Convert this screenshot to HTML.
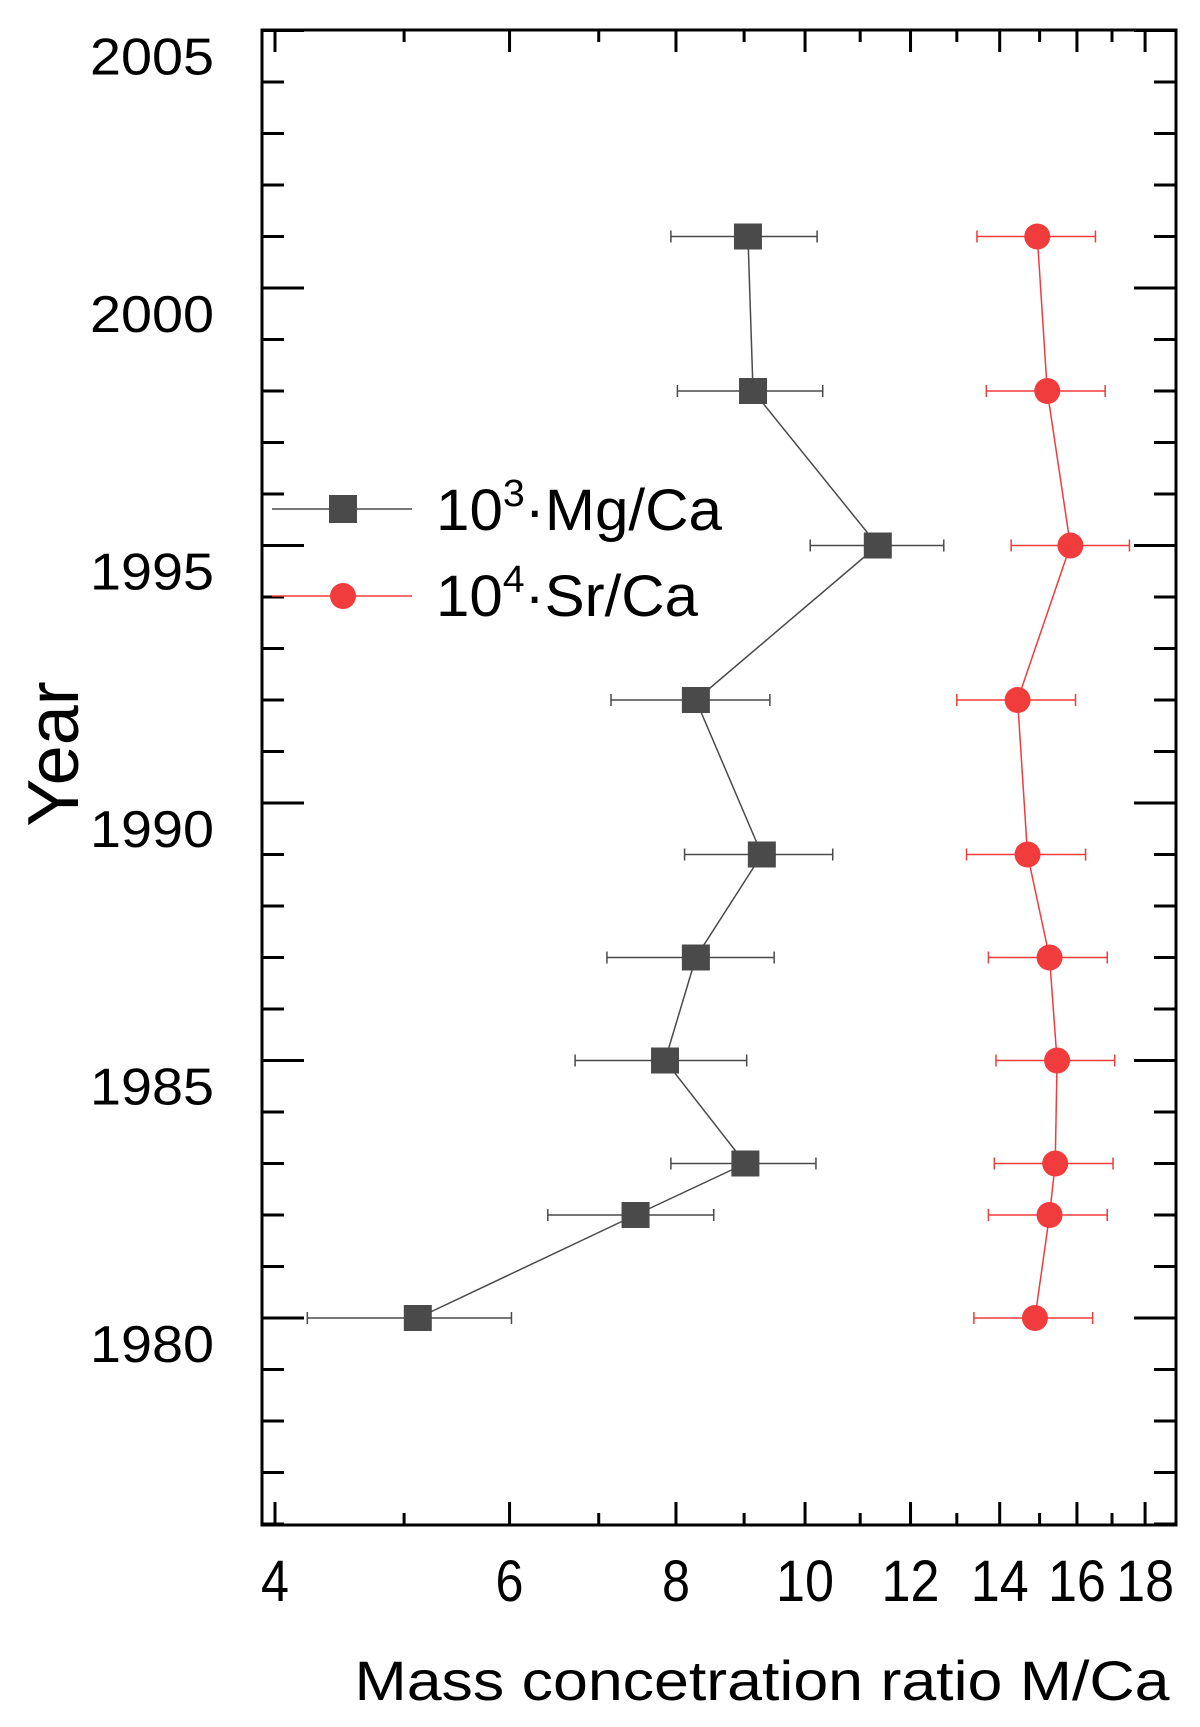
<!DOCTYPE html>
<html><head><meta charset="utf-8"><style>
html,body{margin:0;padding:0;background:#fff;}
svg{display:block;font-family:"Liberation Sans",Arial,sans-serif;}
</style></head><body>
<svg id="chart" width="1200" height="1727" viewBox="0 0 1200 1727" xmlns="http://www.w3.org/2000/svg">
<g id="grid"></g>
<g id="series"></g>
<rect x="262" y="30" width="914" height="1495" fill="none" stroke="#000" stroke-width="3"/>
<g>
 <line x1="272" y1="509" x2="412" y2="509" stroke="#4a4a4a" stroke-width="1.5"/>
 <rect x="329" y="495" width="28" height="28" fill="#4a4a4a"/>
 <text x="436" y="530" font-size="58" textLength="286" lengthAdjust="spacingAndGlyphs">10<tspan dy="-24" font-size="38">3</tspan><tspan dy="24">·Mg/Ca</tspan></text>
 <line x1="272" y1="596" x2="412" y2="596" stroke="#f03c3c" stroke-width="1.5"/>
 <circle cx="343" cy="596" r="13" fill="#f03c3c"/>
 <text x="436" y="616" font-size="58" textLength="262" lengthAdjust="spacingAndGlyphs">10<tspan dy="-24" font-size="38">4</tspan><tspan dy="24">·Sr/Ca</tspan></text>
</g>
<text transform="translate(78,754) rotate(-90)" text-anchor="middle" font-size="72">Year</text>
<text x="762" y="1700" text-anchor="middle" font-size="56" textLength="815" lengthAdjust="spacingAndGlyphs">Mass concetration ratio M/Ca</text>
</svg>
<script>
const years=[2001,1998,1995,1992,1989,1987,1985,1983,1982,1980];
const mgVal=[9.06,9.14,11.34,8.28,9.28,8.28,7.85,9.02,7.46,5.12];
const mgLo=[7.93,8.02,10.09,7.15,8.12,7.10,6.72,7.93,6.41,4.23];
const mgHi=[10.21,10.31,12.71,9.41,10.49,9.48,9.04,10.19,8.54,6.02];
const srVal=[14.94,15.20,15.82,14.44,14.69,15.26,15.46,15.41,15.26,14.88];
const srLo=[13.46,13.68,14.28,13.0,13.22,13.73,13.91,13.87,13.73,13.39];
const srHi=[16.52,16.8,17.52,15.96,16.24,16.86,17.08,17.03,16.86,16.44];
const xTicks=[4,6,8,10,12,14,16,18];
const xMinor=[5,7,9,11,13,15,17];
const yTicks=[1980,1985,1990,1995,2000,2005];

const X=v=>275+1332*Math.log10(v/4);
const Y=y=>1318-(y-1980)*51.5;
const NS='http://www.w3.org/2000/svg';
function mk(t,a,p){const e=document.createElementNS(NS,t);for(const k in a)e.setAttribute(k,a[k]);p.appendChild(e);return e;}
const g=document.getElementById('grid'),s=document.getElementById('series');
for(let y=1976;y<=2005;y++){const L=(y%5===0)?42:22;
 let t=mk('line',{x1:262,x2:262+L,y1:Y(y),y2:Y(y),stroke:'#000','stroke-width':3},g);
 
 
 t=mk('line',{x1:1176,x2:1176-L,y1:Y(y),y2:Y(y),stroke:'#000','stroke-width':3},g);
 
 }
yTicks.forEach(y=>{const t=mk('text',{x:214,y:Y(y)+44,'text-anchor':'end','font-size':52,textLength:124,lengthAdjust:'spacingAndGlyphs'},g);t.textContent=y;
 
 });
xTicks.forEach(v=>{let t=mk('line',{x1:X(v),x2:X(v),y1:1525,y2:1502,stroke:'#000','stroke-width':3},g);
 
 
 t=mk('line',{x1:X(v),x2:X(v),y1:30,y2:52,stroke:'#000','stroke-width':3},g);
 
 
 const l=mk('text',{x:X(v),y:1601,'text-anchor':'middle','font-size':58,textLength:(v>=10?58:28),lengthAdjust:'spacingAndGlyphs'},g);l.textContent=v;
 
 });
xMinor.forEach(v=>{let t=mk('line',{x1:X(v),x2:X(v),y1:1525,y2:1513,stroke:'#000','stroke-width':3},g);
 
 
 t=mk('line',{x1:X(v),x2:X(v),y1:30,y2:42,stroke:'#000','stroke-width':3},g);
 
 });
function series(vals,lo,hi,col,kind){
 const pl=mk('polyline',{points:years.map((y,i)=>X(vals[i])+','+Y(y)).join(' '),fill:'none',stroke:col,'stroke-width':1.5},s);
 
 
 years.forEach((y,i)=>{const yy=Y(y);
  const e=mk('path',{d:`M${X(lo[i])},${yy}H${X(hi[i])}M${X(lo[i])},${yy-6}v12M${X(hi[i])},${yy-6}v12`,stroke:col,'stroke-width':1.5,fill:'none'},s);
  
  
  let m;
  if(kind==='mg')m=mk('rect',{x:X(vals[i])-14,y:yy-13,width:28,height:26,fill:col},s);
  else m=mk('circle',{cx:X(vals[i]),cy:yy,r:13,fill:col},s);
  
  });
}
series(mgVal,mgLo,mgHi,'#4a4a4a','mg');
series(srVal,srLo,srHi,'#f03c3c','sr');
</script>
</body></html>
